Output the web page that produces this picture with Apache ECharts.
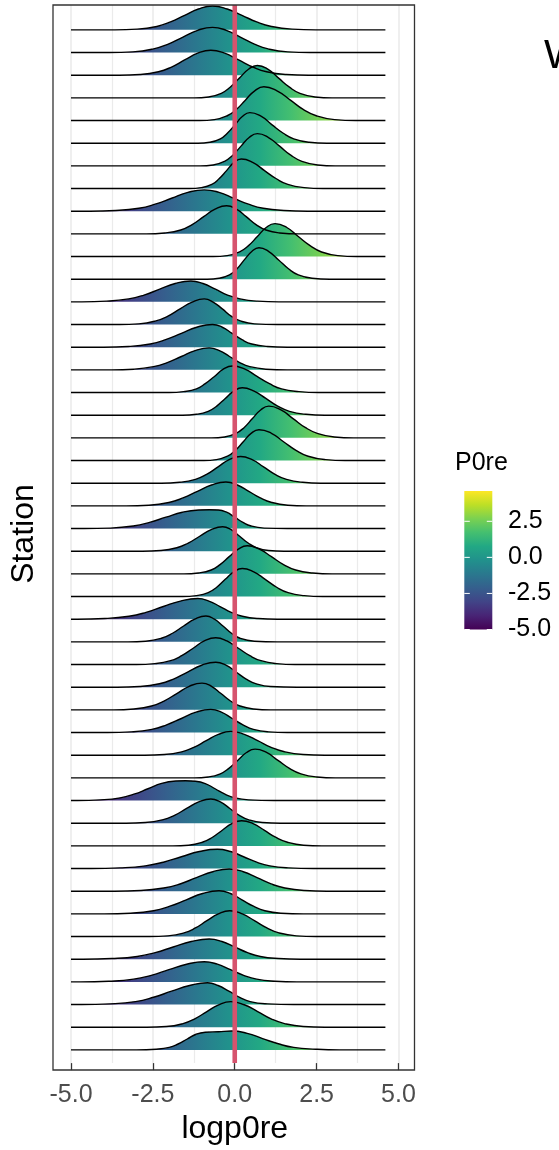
<!DOCTYPE html>
<html><head><meta charset="utf-8">
<script src="https://cdn.jsdelivr.net/npm/echarts@6/dist/echarts.min.js"></script>
<style>html,body{margin:0;padding:0;background:#fff}#c{width:559px;height:1150px}</style>
</head><body><div id="c"></div>
<script>
// Ridge outlines, one per station (top to bottom): [logp0re, height in row units]
const d00 = [[-5,0],[-3.66,0],[-2.98,0.03],[-2.38,0.15],[-1.96,0.35],[-1.53,0.64],[-1.11,0.92],[-0.68,1.05],[-0.23,0.92],[0.22,0.64],[0.67,0.35],[1.12,0.15],[1.75,0.03],[2.47,0],[4.6,0]];
const d01 = [[-5,0],[-3.83,0],[-3.11,0.03],[-2.48,0.16],[-2.03,0.37],[-1.58,0.68],[-1.13,0.98],[-0.68,1.11],[-0.26,0.98],[0.17,0.68],[0.6,0.37],[1.02,0.16],[1.62,0.03],[2.3,0],[4.6,0]];
const d02 = [[-5,0],[-3.53,0],[-2.89,0.03],[-2.33,0.15],[-1.93,0.36],[-1.53,0.67],[-1.13,0.97],[-0.73,1.1],[-0.31,0.97],[0.12,0.67],[0.55,0.36],[0.97,0.15],[1.57,0.03],[2.25,0],[4.6,0]];
const d03 = [[-5,0],[-1.24,0],[-0.8,0.04],[-0.41,0.2],[-0.14,0.47],[0.14,0.87],[0.42,1.26],[0.69,1.43],[1.02,1.26],[1.34,0.87],[1.67,0.47],[1.99,0.2],[2.45,0.04],[2.97,0],[4.6,0]];
const d04 = [[-5,0],[-1.07,0],[-0.62,0.04],[-0.23,0.21],[0.05,0.49],[0.33,0.91],[0.61,1.31],[0.89,1.49],[1.29,1.31],[1.69,0.91],[2.09,0.49],[2.49,0.21],[3.05,0.04],[3.69,0],[4.6,0]];
const d05 = [[-5,0],[-1.12,0],[-0.76,0.04],[-0.44,0.19],[-0.22,0.45],[0.01,0.82],[0.24,1.19],[0.46,1.35],[0.8,1.19],[1.13,0.82],[1.47,0.45],[1.8,0.19],[2.27,0.04],[2.81,0],[4.6,0]];
const d06 = [[-5,0],[-1.06,0],[-0.66,0.04],[-0.31,0.2],[-0.06,0.47],[0.19,0.87],[0.44,1.25],[0.69,1.42],[1.03,1.25],[1.37,0.87],[1.71,0.47],[2.05,0.2],[2.53,0.04],[3.07,0],[4.6,0]];
const d07 = [[-5,0],[-1.38,0],[-1.02,0.04],[-0.7,0.18],[-0.48,0.43],[-0.25,0.79],[-0.03,1.14],[0.2,1.3],[0.56,1.14],[0.91,0.79],[1.27,0.43],[1.62,0.18],[2.12,0.04],[2.69,0],[4.6,0]];
const d08 = [[-5,0],[-4.43,0],[-3.63,0.03],[-2.93,0.13],[-2.43,0.31],[-1.93,0.57],[-1.43,0.83],[-0.93,0.94],[-0.48,0.83],[-0.03,0.57],[0.42,0.31],[0.87,0.13],[1.5,0.03],[2.22,0],[4.6,0]];
const d09 = [[-5,0],[-2.7,0],[-2.14,0.04],[-1.65,0.17],[-1.3,0.41],[-0.95,0.76],[-0.6,1.09],[-0.25,1.24],[0.05,1.09],[0.35,0.76],[0.65,0.41],[0.95,0.17],[1.37,0.04],[1.95,0],[4.6,0]];
const d10 = [[-5,0],[-0.66,0],[-0.23,0.04],[0.15,0.2],[0.42,0.48],[0.69,0.88],[0.96,1.28],[1.23,1.45],[1.59,1.28],[1.94,0.88],[2.3,0.48],[2.65,0.2],[3.15,0.04],[3.72,0],[4.6,0]];
const d11 = [[-5,0],[-0.84,0],[-0.48,0.04],[-0.16,0.19],[0.07,0.46],[0.29,0.85],[0.52,1.22],[0.74,1.39],[1.04,1.22],[1.34,0.85],[1.64,0.46],[1.94,0.19],[2.36,0.04],[2.9,0],[4.6,0]];
const d12 = [[-5,0],[-4.67,0],[-3.91,0.03],[-3.24,0.13],[-2.77,0.3],[-2.29,0.56],[-1.82,0.81],[-1.34,0.92],[-0.97,0.81],[-0.59,0.56],[-0.22,0.3],[0.16,0.13],[0.69,0.03],[1.35,0],[4.6,0]];
const d13 = [[-5,0],[-3.52,0],[-2.93,0.03],[-2.41,0.16],[-2.04,0.37],[-1.67,0.69],[-1.3,0.99],[-0.93,1.13],[-0.66,0.99],[-0.38,0.69],[-0.11,0.37],[0.17,0.16],[0.6,0.03],[1.3,0],[4.6,0]];
const d14 = [[-5,0],[-4,0],[-3.25,0.03],[-2.58,0.14],[-2.11,0.33],[-1.63,0.61],[-1.16,0.88],[-0.68,1.0],[-0.38,0.88],[-0.08,0.61],[0.22,0.33],[0.52,0.14],[1.0,0.03],[1.6,0],[4.6,0]];
const d15 = [[-5,0],[-3.76,0],[-3.08,0.03],[-2.48,0.14],[-2.06,0.32],[-1.63,0.59],[-1.21,0.85],[-0.78,0.97],[-0.47,0.85],[-0.16,0.59],[0.15,0.32],[0.46,0.14],[0.95,0.03],[1.6,0],[4.6,0]];
const d16 = [[-5,0],[-2.0,0],[-1.56,0.04],[-1.17,0.16],[-0.9,0.39],[-0.62,0.71],[-0.35,1.03],[-0.07,1.17],[0.31,1.03],[0.68,0.71],[1.06,0.39],[1.43,0.16],[1.96,0.04],[2.56,0],[4.6,0]];
const d17 = [[-5,0],[-1.59,0],[-1.17,0.04],[-0.81,0.17],[-0.55,0.4],[-0.29,0.74],[-0.03,1.06],[0.23,1.21],[0.59,1.06],[0.95,0.74],[1.31,0.4],[1.67,0.17],[2.17,0.04],[2.75,0],[4.6,0]];
const d18 = [[-5,0],[-0.71,0],[-0.31,0.04],[0.04,0.2],[0.29,0.46],[0.54,0.85],[0.79,1.23],[1.04,1.4],[1.41,1.23],[1.78,0.85],[2.15,0.46],[2.52,0.2],[3.04,0.04],[3.63,0],[4.6,0]];
const d19 = [[-5,0],[-0.94,0],[-0.56,0.04],[-0.22,0.19],[0.02,0.45],[0.26,0.83],[0.5,1.2],[0.74,1.36],[1.12,1.2],[1.49,0.83],[1.87,0.45],[2.24,0.19],[2.77,0.04],[3.37,0],[4.6,0]];
const d20 = [[-5,0],[-2.24,0],[-1.68,0.04],[-1.2,0.17],[-0.86,0.39],[-0.51,0.72],[-0.17,1.04],[0.18,1.18],[0.53,1.04],[0.88,0.72],[1.23,0.39],[1.58,0.17],[2.07,0.04],[2.63,0],[4.6,0]];
const d21 = [[-5,0],[-3.32,0],[-2.62,0.03],[-2.01,0.15],[-1.58,0.35],[-1.14,0.64],[-0.71,0.92],[-0.27,1.05],[0.08,0.92],[0.43,0.64],[0.78,0.35],[1.13,0.15],[1.62,0.03],[2.18,0],[4.6,0]];
const d22 = [[-5,0],[-4.6,0],[-3.8,0.02],[-3.1,0.11],[-2.6,0.27],[-2.1,0.5],[-1.6,0.72],[-1.1,0.82],[-0.78,0.83],[-0.5,0.82],[-0.25,0.72],[0,0.5],[0.25,0.27],[0.5,0.11],[0.9,0.02],[1.6,0],[4.6,0]];
const d23 = [[-5,0],[-2.82,0],[-2.26,0.03],[-1.77,0.15],[-1.42,0.36],[-1.07,0.66],[-0.72,0.95],[-0.37,1.08],[-0.11,0.95],[0.15,0.66],[0.41,0.36],[0.67,0.15],[1.03,0.03],[1.5,0],[4.6,0]];
const d24 = [[-5,0],[-1.55,0],[-1.11,0.04],[-0.72,0.17],[-0.45,0.41],[-0.17,0.76],[0.11,1.09],[0.38,1.24],[0.75,1.09],[1.12,0.76],[1.49,0.41],[1.86,0.17],[2.38,0.04],[2.97,0],[4.6,0]];
const d25 = [[-5,0],[-1.59,0],[-1.17,0.04],[-0.81,0.17],[-0.55,0.41],[-0.29,0.76],[-0.03,1.09],[0.23,1.24],[0.58,1.09],[0.93,0.76],[1.28,0.41],[1.63,0.17],[2.12,0.04],[2.68,0],[4.6,0]];
const d26 = [[-5,0],[-4.81,0],[-3.97,0.03],[-3.23,0.13],[-2.71,0.3],[-2.18,0.56],[-1.66,0.8],[-1.13,0.91],[-0.79,0.8],[-0.45,0.56],[-0.11,0.3],[0.23,0.13],[0.71,0.03],[1.3,0],[4.6,0]];
const d27 = [[-5,0],[-3.26,0],[-2.72,0.03],[-2.24,0.16],[-1.9,0.38],[-1.56,0.7],[-1.22,1.0],[-0.88,1.14],[-0.62,1.0],[-0.36,0.7],[-0.1,0.38],[0.16,0.16],[0.6,0.03],[1.3,0],[4.6,0]];
const d28 = [[-5,0],[-3.0,0],[-2.44,0.04],[-1.96,0.17],[-1.62,0.39],[-1.27,0.72],[-0.93,1.04],[-0.58,1.18],[-0.24,1.04],[0.11,0.72],[0.46,0.39],[0.8,0.17],[1.28,0.04],[1.84,0],[4.6,0]];
const d29 = [[-5,0],[-3.59,0],[-2.9,0.03],[-2.3,0.15],[-1.87,0.36],[-1.44,0.67],[-1.01,0.97],[-0.58,1.1],[-0.27,0.97],[0.04,0.67],[0.35,0.36],[0.66,0.15],[1.09,0.03],[1.9,0],[4.6,0]];
const d30 = [[-5,0],[-3.7,0],[-3.08,0.04],[-2.54,0.17],[-2.16,0.39],[-1.77,0.72],[-1.39,1.04],[-1.0,1.18],[-0.71,1.04],[-0.42,0.72],[-0.13,0.39],[0.16,0.17],[0.57,0.04],[1.1,0],[4.6,0]];
const d31 = [[-5,0],[-3.88,0],[-3.16,0.03],[-2.53,0.14],[-2.08,0.34],[-1.63,0.62],[-1.18,0.9],[-0.73,1.02],[-0.41,0.9],[-0.08,0.62],[0.25,0.34],[0.57,0.14],[1.03,0.03],[1.6,0],[4.6,0]];
const d32 = [[-5,0],[-2.75,0],[-2.15,0.03],[-1.62,0.15],[-1.25,0.35],[-0.87,0.64],[-0.5,0.92],[-0.12,1.05],[0.29,0.92],[0.7,0.64],[1.11,0.35],[1.52,0.15],[2.09,0.03],[2.75,0],[4.6,0]];
const d33 = [[-5,0],[-1.24,0],[-0.81,0.04],[-0.44,0.18],[-0.18,0.42],[0.09,0.77],[0.36,1.12],[0.62,1.27],[0.97,1.12],[1.32,0.77],[1.67,0.42],[2.02,0.18],[2.51,0.04],[3.07,0],[4.6,0]];
const d34 = [[-5,0],[-4.8,0],[-4.1,0.03],[-3.5,0.12],[-3.08,0.28],[-2.65,0.52],[-2.23,0.76],[-1.8,0.86],[-1.5,0.87],[-1.2,0.85],[-0.9,0.75],[-0.6,0.52],[-0.3,0.28],[0,0.12],[0.42,0.03],[1.2,0],[4.6,0]];
const d35 = [[-5,0],[-3.32,0],[-2.73,0.03],[-2.21,0.15],[-1.84,0.35],[-1.47,0.65],[-1.1,0.94],[-0.73,1.07],[-0.44,0.94],[-0.15,0.65],[0.14,0.35],[0.43,0.15],[0.84,0.03],[1.4,0],[4.6,0]];
const d36 = [[-5,0],[-1.89,0],[-1.41,0.03],[-0.99,0.16],[-0.69,0.37],[-0.39,0.68],[-0.09,0.98],[0.21,1.11],[0.56,0.98],[0.91,0.68],[1.26,0.37],[1.61,0.16],[2.1,0.03],[2.66,0],[4.6,0]];
const d37 = [[-5,0],[-4.38,0],[-3.5,0.03],[-2.73,0.12],[-2.18,0.28],[-1.63,0.52],[-1.08,0.75],[-0.53,0.85],[-0.13,0.75],[0.27,0.52],[0.67,0.28],[1.07,0.12],[1.63,0.03],[2.4,0],[4.6,0]];
const d38 = [[-5,0],[-3.67,0],[-2.87,0.03],[-2.17,0.14],[-1.67,0.32],[-1.17,0.6],[-0.67,0.86],[-0.17,0.98],[0.26,0.86],[0.68,0.6],[1.11,0.32],[1.53,0.14],[2.13,0.03],[2.81,0],[4.6,0]];
const d39 = [[-5,0],[-3.98,0],[-3.18,0.03],[-2.48,0.14],[-1.98,0.34],[-1.48,0.62],[-0.98,0.9],[-0.48,1.02],[-0.13,0.9],[0.22,0.62],[0.57,0.34],[0.92,0.14],[1.41,0.03],[2.1,0],[4.6,0]];
const d40 = [[-5,0],[-2.6,0],[-2.04,0.03],[-1.55,0.16],[-1.2,0.38],[-0.85,0.7],[-0.5,1.0],[-0.15,1.14],[0.23,1.0],[0.6,0.7],[0.98,0.38],[1.35,0.16],[1.88,0.03],[2.48,0],[4.6,0]];
const d41 = [[-5,0],[-4.63,0],[-3.75,0.03],[-2.98,0.12],[-2.43,0.29],[-1.88,0.54],[-1.33,0.78],[-0.78,0.89],[-0.39,0.78],[0,0.54],[0.39,0.29],[0.78,0.12],[1.33,0.03],[2.0,0],[4.6,0]];
const d42 = [[-5,0],[-4.71,0],[-3.85,0.03],[-3.09,0.12],[-2.55,0.29],[-2.01,0.54],[-1.47,0.78],[-0.93,0.89],[-0.53,0.78],[-0.13,0.54],[0.27,0.29],[0.67,0.12],[1.23,0.03],[1.9,0],[4.6,0]];
const d43 = [[-5,0],[-4.68,0],[-3.8,0.03],[-3.03,0.13],[-2.48,0.32],[-1.93,0.59],[-1.38,0.84],[-0.83,0.96],[-0.51,0.84],[-0.18,0.59],[0.15,0.32],[0.47,0.13],[1.0,0.03],[1.8,0],[4.6,0]];
const d44 = [[-5,0],[-2.68,0],[-2.09,0.03],[-1.58,0.16],[-1.22,0.37],[-0.85,0.69],[-0.49,0.99],[-0.12,1.13],[0.29,0.99],[0.7,0.69],[1.11,0.37],[1.52,0.16],[2.09,0.03],[2.75,0],[4.6,0]];
const d45 = [[-5,0],[-3.0,0],[-2.4,0.03],[-2.0,0.11],[-1.73,0.26],[-1.45,0.48],[-1.18,0.69],[-0.9,0.78],[-0.5,0.8],[-0.1,0.83],[0.38,0.73],[0.85,0.5],[1.33,0.27],[1.8,0.11],[2.47,0.03],[3.2,0],[4.6,0]];

const densities = [d00,d01,d02,d03,d04,d05,d06,d07,d08,d09,d10,d11,d12,d13,d14,d15,d16,d17,d18,d19,d20,d21,d22,d23,d24,d25,d26,d27,d28,d29,d30,d31,d32,d33,d34,d35,d36,d37,d38,d39,d40,d41,d42,d43,d44,d45];
const xTicks = [-5, -2.5, 0, 2.5, 5];
const colorRange = [-5, 4.6];            // P0re fill scale
const legendTicks = [2.5, 0, -2.5, -5];
const refLine = 0;
const viridis = ['#440154','#482475','#414487','#355F8D','#2A788E','#21918C','#22A884','#44BF70','#7AD151','#BDDF26','#FDE725'];

const FONT = "'Liberation Sans', Arial, sans-serif";
const n = densities.length;
const yMin = -0.583, yMax = n - 1 + 1.096;

const chart = echarts.init(document.getElementById('c'));

function fmt(v){ return v.toFixed(1); }

function buildSeries(x0px, x1px) {
  const stops = viridis.map((c, i) => ({offset: i / (viridis.length - 1), color: c}));
  const grad = new echarts.graphic.LinearGradient(x0px, 0, x1px, 0, stops, true);
  const s = densities.map((d, i) => {
    const base = n - 1 - i;
    return {
      type: 'line', silent: true, smooth: 0.5, symbol: 'none',
      data: d.map(p => [p[0], base + p[1]]),
      lineStyle: {color: '#000000', width: 1.4},
      areaStyle: {origin: base, color: grad, opacity: 1},
      z: 2
    };
  });
  s.push({
    type: 'line', silent: true, symbol: 'none',
    data: [[refLine, yMin], [refLine, yMax]],
    lineStyle: {color: '#D6546E', width: 4.6}, z: 5
  });
  return s;
}

// legend geometry
const barTop = 491, barH = 138.5, barX = 464.3, barW = 28;
const legY = v => barTop + barH - (v - colorRange[0]) / (colorRange[1] - colorRange[0]) * barH;
const legendGraphics = [];
legendGraphics.push({type: 'rect', shape: {x: barX, y: barTop, width: barW, height: barH},
  style: {fill: new echarts.graphic.LinearGradient(0, 1, 0, 0, viridis.map((c, i) => ({offset: i / (viridis.length - 1), color: c})))}});
legendTicks.forEach(v => {
  const y = legY(v);
  legendGraphics.push({type: 'line', shape: {x1: barX, y1: y, x2: barX + 5.5, y2: y}, style: {stroke: '#ffffff', lineWidth: 1}});
  legendGraphics.push({type: 'line', shape: {x1: barX + barW - 5.5, y1: y, x2: barX + barW, y2: y}, style: {stroke: '#ffffff', lineWidth: 1}});
  legendGraphics.push({type: 'text', x: 508, y: y, style: {text: fmt(v), font: '25px ' + FONT, fill: '#000000', textVerticalAlign: 'middle', textAlign: 'left'}});
});
legendGraphics.push({type: 'text', x: 455, y: 476, style: {text: 'P0re', font: '25px ' + FONT, fill: '#000000', textVerticalAlign: 'bottom', textAlign: 'left'}});
legendGraphics.push({type: 'text', x: 544, y: 36, style: {text: 'W', font: '41px ' + FONT, fill: '#000000', textVerticalAlign: 'top', textAlign: 'left'}});
legendGraphics.push({type: 'rect', z: 100, shape: {x: 53, y: 5, width: 361.5, height: 1065}, style: {fill: null, stroke: '#333333', lineWidth: 1.3}});

const option = {
  animation: false,
  backgroundColor: '#ffffff',
  grid: {left: 68.5, right: 160.5, top: 5, bottom: 80, containLabel: false},
  xAxis: {
    type: 'value', min: xTicks[0], max: xTicks[xTicks.length - 1], interval: 2.5,
    name: 'logp0re', nameLocation: 'middle', nameGap: 41,
    nameTextStyle: {fontSize: 32, color: '#000000', fontFamily: FONT},
    axisLine: {show: false, onZero: false},
    axisTick: {show: true, length: 7, lineStyle: {color: '#333333', width: 1.3}},
    axisLabel: {fontSize: 25, color: '#4D4D4D', fontFamily: FONT, margin: 20, formatter: v => fmt(v)},
    splitLine: {show: true, lineStyle: {color: '#EBEBEB', width: 1.6}},
    minorTick: {show: false, splitNumber: 2},
    minorSplitLine: {show: true, lineStyle: {color: '#EBEBEB', width: 1.2}}
  },
  yAxis: {
    type: 'value', min: yMin, max: yMax,
    name: 'Station', nameLocation: 'middle', nameGap: 31,
    nameTextStyle: {fontSize: 32, color: '#000000', fontFamily: FONT},
    axisLine: {show: false, onZero: false}, axisTick: {show: false}, axisLabel: {show: false}, splitLine: {show: false}
  },
  graphic: legendGraphics,
  series: buildSeries(68.5, 385.3)
};
chart.setOption(option);
const px0 = chart.convertToPixel({xAxisIndex: 0}, colorRange[0]);
const px1 = chart.convertToPixel({xAxisIndex: 0}, colorRange[1]);
chart.setOption({series: buildSeries(px0, px1)});
</script>
</body></html>
